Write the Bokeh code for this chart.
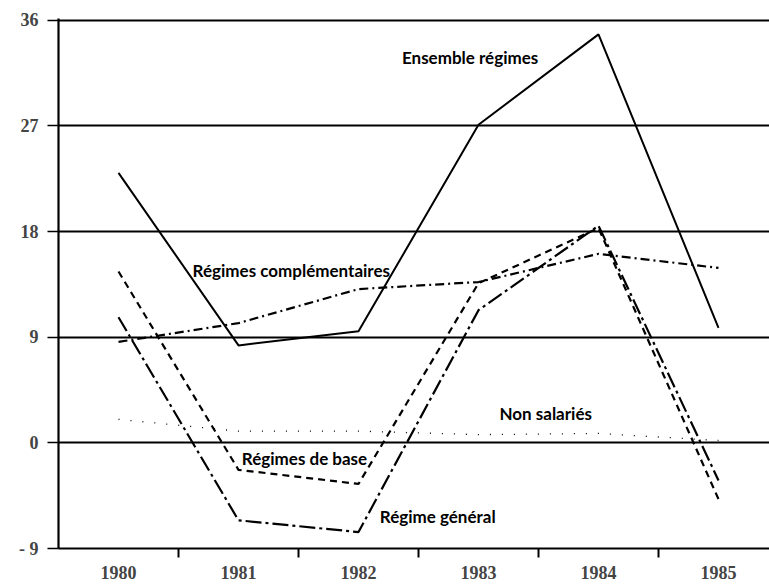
from bokeh.plotting import figure
from bokeh.models import FixedTicker, Range1d, Label
from bokeh.embed import file_html
from bokeh.resources import INLINE

years = [1980, 1981, 1982, 1983, 1984, 1985]
ensemble = [23.0, 8.3, 9.5, 27.1, 34.8, 9.8]
complementaires = [8.6, 10.2, 13.1, 13.7, 16.1, 14.9]
base = [14.6, -2.3, -3.5, 13.6, 18.3, -4.8]
general = [10.7, -6.6, -7.6, 11.3, 18.5, -3.2]
non_salaries = [2.0, 1.0, 1.0, 0.7, 0.8, 0.2]
y_ticks = [-9, 0, 9, 18, 27, 36]
y_tick_labels = {-9: "- 9"}
x_minor = [1980.5, 1981.5, 1982.5, 1983.5, 1984.5]

p = figure(width=769, height=584, output_backend="svg", toolbar_location=None,
           x_range=Range1d(1979.5, 1985.425), y_range=Range1d(-9, 36.15),
           min_border_left=58, min_border_right=0, min_border_top=18, min_border_bottom=36)
p.outline_line_color = None
p.background_fill_color = "white"

p.xgrid.grid_line_color = None
p.ygrid.ticker = FixedTicker(ticks=[0, 9, 18, 27, 36])
p.ygrid.grid_line_color = "black"
p.ygrid.grid_line_width = 2.2
p.ygrid.grid_line_alpha = 1.0

p.yaxis.ticker = FixedTicker(ticks=y_ticks)
p.yaxis.major_label_overrides = y_tick_labels
p.yaxis.axis_line_width = 2.2
p.yaxis.major_tick_out = 11
p.yaxis.major_tick_in = 0
p.yaxis.minor_tick_line_color = None
p.yaxis.major_tick_line_width = 1.5
p.yaxis.major_label_standoff = 9
p.yaxis.major_label_text_font = "Liberation Serif"
p.yaxis.major_label_text_font_style = "bold"
p.yaxis.major_label_text_font_size = "18px"

p.xaxis.ticker = FixedTicker(ticks=years, minor_ticks=x_minor)
p.xaxis.axis_line_width = 2.2
p.xaxis.major_tick_line_color = None
p.xaxis.minor_tick_out = 9
p.xaxis.minor_tick_in = 0
p.xaxis.minor_tick_line_width = 2
p.xaxis.major_label_standoff = 8
p.xaxis.major_label_text_font = "Liberation Serif"
p.xaxis.major_label_text_font_style = "bold"
p.xaxis.major_label_text_font_size = "18px"

p.line(years, ensemble, line_color="black", line_width=2)
p.line(years, complementaires, line_color="black", line_width=2.2, line_dash="9 4 2 4")
p.line(years, base, line_color="black", line_width=2.2, line_dash="7 5")
p.line(years, general, line_color="black", line_width=2.2, line_dash="16 4 3 4")
p.line(years, non_salaries, line_color="black", line_width=1.3, line_dash="1 11")

labels = [
    ("Ensemble régimes", 1982.93, 32.85),
    ("Régimes complémentaires", 1981.44, 14.7),
    ("Non salariés", 1983.56, 2.5),
    ("Régimes de base", 1981.55, -1.35),
    ("Régime général", 1982.66, -6.3),
]
for t, lx, ly in labels:
    p.add_layout(Label(x=lx, y=ly, text=t, text_align="center", text_baseline="middle",
                       text_font="Lato", text_font_size="17px", text_font_style="bold",
                       text_color="black", background_fill_color=None))

open("out.html", "w").write(file_html(p, INLINE))
